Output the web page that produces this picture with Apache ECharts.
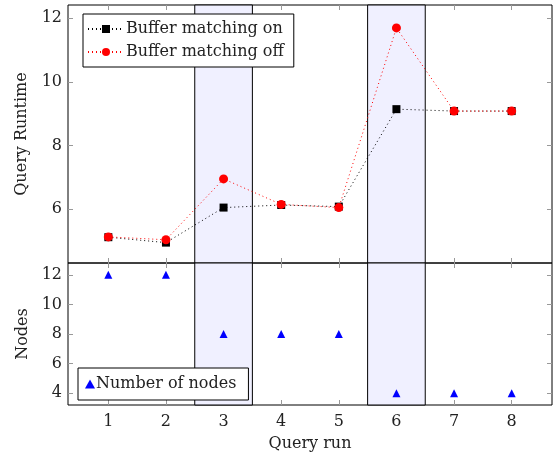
<!DOCTYPE html>
<html>
<head>
<meta charset="utf-8">
<script src="https://cdn.jsdelivr.net/npm/echarts@6/dist/echarts.min.js"></script>
<style>
  html, body { margin: 0; padding: 0; background: #fff; }
  #chart { width: 556px; height: 457px; }
</style>
</head>
<body>
<div id="chart"></div>
<script>
// ── data ──
const runs = [1, 2, 3, 4, 5, 6, 7, 8]
const runtimeOn = [5.12, 4.95, 6.05, 6.13, 6.08, 9.14, 9.08, 9.08]
const runtimeOff = [5.13, 5.04, 6.95, 6.15, 6.05, 11.69, 9.08, 9.08]
const nodes = [12, 12, 8, 8, 8, 4, 4, 4]
const bands = [[2.5, 3.5], [5.5, 6.5]]
const runtimeTicks = [6, 8, 10, 12]
const nodeTicks = [4, 6, 8, 10, 12]

const font = 'DejaVu Serif'
const txt = { fontFamily: font, fontSize: 16, color: '#222' }
const pair = (ys) => runs.map((x, i) => [x, ys[i]])

const bandArea = {
  silent: true,
  itemStyle: { color: '#f0f0ff', borderColor: '#000', borderWidth: 1 },
  data: bands.map(([a, b]) => [{ xAxis: a }, { xAxis: b }]),
}

function xAxisOf(grid, pos, labels) {
  return {
    type: 'value', gridIndex: grid, position: pos, min: 0.3, max: 8.7,
    axisLine: { show: false }, splitLine: { show: false },
    axisTick: { inside: true, length: 5, customValues: runs, lineStyle: { color: '#999' } },
    axisLabel: { show: labels, customValues: runs, margin: 9, ...txt },
  }
}
function yAxisOf(grid, pos, min, max, ticks, labels) {
  return {
    type: 'value', gridIndex: grid, position: pos, min, max,
    axisLine: { show: false }, splitLine: { show: false },
    axisTick: { inside: true, length: 5, customValues: ticks, lineStyle: { color: '#999' } },
    axisLabel: { show: labels, customValues: ticks, margin: 6, ...txt },
  }
}

const chart = echarts.init(document.getElementById('chart'))
const xs = [xAxisOf(0, 'bottom', false), xAxisOf(0, 'top', false), xAxisOf(1, 'bottom', true), xAxisOf(1, 'top', false)]
Object.assign(xs[2], { name: 'Query run', nameLocation: 'middle', nameGap: 31, nameTextStyle: txt })
const ys = [
  yAxisOf(0, 'left', 4.31, 12.41, runtimeTicks, true),
  yAxisOf(0, 'right', 4.31, 12.41, runtimeTicks, false),
  yAxisOf(1, 'left', 3.2, 12.8, nodeTicks, true),
  yAxisOf(1, 'right', 3.2, 12.8, nodeTicks, false),
]
Object.assign(ys[0], { name: 'Query Runtime', nameLocation: 'middle', nameGap: 38, nameTextStyle: txt })
Object.assign(ys[2], { name: 'Nodes', nameLocation: 'middle', nameGap: 30, nameTextStyle: txt })

chart.setOption({
  animation: false,
  grid: [
    { left: 68, right: 4, top: 5, height: 258, show: true, borderColor: '#000', borderWidth: 1, backgroundColor: 'transparent' },
    { left: 68, right: 4, top: 263, height: 142, show: true, borderColor: '#000', borderWidth: 1, backgroundColor: 'transparent' },
  ],
  xAxis: xs,
  yAxis: ys,
  legend: [
    {
      left: 83, top: 14, orient: 'vertical', itemGap: 7, itemWidth: 36, itemHeight: 10,
      padding: [7, 10, 7, 4], borderColor: '#000', borderWidth: 1, backgroundColor: '#fff',
      data: ['Buffer matching on', 'Buffer matching off'],
      textStyle: { ...txt, padding: [0, 0, 0, -3] },
    },
    {
      left: 78, top: 368, itemWidth: 10, itemHeight: 9, itemGap: 2,
      padding: [8, 12, 8, 7], borderColor: '#000', borderWidth: 1, backgroundColor: '#fff',
      data: ['Number of nodes'],
      textStyle: { ...txt, padding: [0, 0, 0, -4] },
    },
  ],
  series: [
    {
      name: 'Buffer matching on', type: 'line', xAxisIndex: 0, yAxisIndex: 0,
      data: pair(runtimeOn), symbol: 'rect', symbolSize: 8,
      itemStyle: { color: '#000' }, lineStyle: { color: '#000', width: 1, type: [1, 3] },
      markArea: bandArea, z: 3,
    },
    {
      name: 'Buffer matching off', type: 'line', xAxisIndex: 0, yAxisIndex: 0,
      data: pair(runtimeOff), symbol: 'circle', symbolSize: 9,
      itemStyle: { color: '#ff0000' }, lineStyle: { color: '#ff0000', width: 1, type: [1, 3] }, z: 4,
    },
    {
      name: 'Number of nodes', type: 'scatter', xAxisIndex: 2, yAxisIndex: 2,
      data: pair(nodes), symbol: 'triangle', symbolSize: 8,
      itemStyle: { color: '#0000ff', opacity: 1 }, markArea: bandArea, z: 3,
    },
  ],
})
</script>
</body>
</html>
